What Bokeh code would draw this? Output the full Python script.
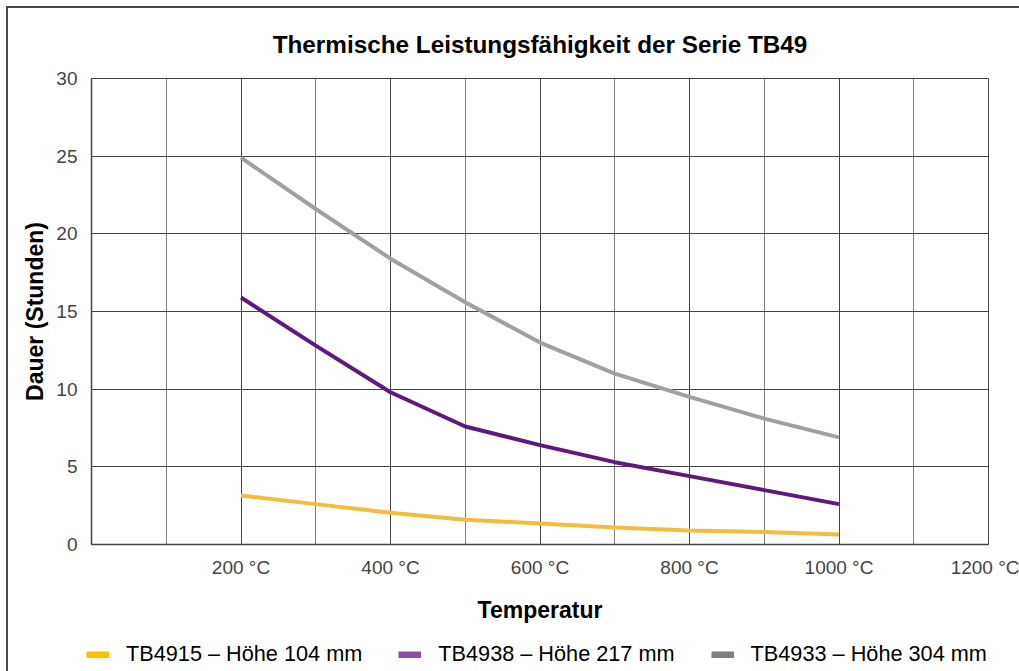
from bokeh.plotting import figure
from bokeh.models import (ColumnDataSource, Range1d, FixedTicker, Legend, LegendItem)
from bokeh.layouts import column
from bokeh.embed import file_html
from bokeh.resources import INLINE

# ---- data ----
temperature = [200, 300, 400, 500, 600, 700, 800, 900, 1000]
tb4915 = [3.15, 2.6, 2.05, 1.6, 1.35, 1.1, 0.9, 0.8, 0.65]
tb4938 = [15.9, 12.8, 9.8, 7.6, 6.4, 5.3, 4.4, 3.5, 2.6]
tb4933 = [24.9, 21.6, 18.4, 15.6, 13.0, 11.0, 9.5, 8.1, 6.9]

series_names = ["TB4915 – Höhe 104 mm", "TB4938 – Höhe 217 mm", "TB4933 – Höhe 304 mm"]
x_ticks = [200, 400, 600, 800, 1000, 1200]
x_tick_labels = ["200 °C", "400 °C", "600 °C", "800 °C", "1000 °C", "1200 °C"]
x_minor = [0, 100, 300, 500, 700, 900, 1100]
y_ticks = [0, 5, 10, 15, 20, 25, 30]
y_tick_labels = ["0", "5", "10", "15", "20", "25", "30"]

title = "Thermische Leistungsfähigkeit der Serie TB49"
x_label = "Temperatur"
y_label = "Dauer (Stunden)"

line_colors = ["#f4bc3c", "#5c1a7d", "#a0a0a0"]
legend_colors = ["#ffc000", "#8b4f9f", "#808080"]

FONT = "Liberation Sans"

p = figure(width=1019, height=630, output_backend="svg", toolbar_location=None,
           x_range=Range1d(0, 1200), y_range=Range1d(0, 30),
           min_border_left=91, min_border_right=31, min_border_top=78, min_border_bottom=86)
p.border_fill_alpha = 0
p.background_fill_color = "#ffffff"

p.title.text = title
p.title.align = "center"
p.title.offset = 3
p.title.text_font = FONT
p.title.text_font_size = "24.3px"
p.title.text_font_style = "bold"
p.title.text_color = "#000000"
p.title.standoff = 41

p.outline_line_color = "#444444"
p.outline_line_width = 1

# axes
xa = p.xaxis[0]
xa.ticker = FixedTicker(ticks=x_ticks, minor_ticks=x_minor)
xa.major_label_overrides = {t: l for t, l in zip(x_ticks, x_tick_labels)}
ya = p.yaxis[0]
ya.ticker = FixedTicker(ticks=y_ticks)
ya.major_label_overrides = {t: l for t, l in zip(y_ticks, y_tick_labels)}
for ax in (xa, ya):
    ax.major_tick_in = 0
    ax.major_tick_out = 0
    ax.minor_tick_in = 0
    ax.minor_tick_out = 0
    ax.axis_line_color = "#444444"
    ax.axis_line_width = 1.5
    ax.major_label_text_font = FONT
    ax.major_label_text_font_size = "19px"
    ax.major_label_text_color = "#444444"
    ax.axis_label_text_font = FONT
    ax.axis_label_text_font_size = "23px"
    ax.axis_label_text_font_style = "bold"
    ax.axis_label_text_color = "#000000"
xa.axis_label = x_label
ya.axis_label = y_label
xa.major_label_standoff = 12
xa.axis_label_standoff = 16
ya.major_label_standoff = 14
ya.axis_label_standoff = 5

p.xgrid.grid_line_color = "#444444"
p.xgrid.minor_grid_line_color = "#808080"
p.ygrid.grid_line_color = "#444444"

# lines
src = ColumnDataSource(dict(x=temperature, a=tb4915, b=tb4938, c=tb4933))
for col, color in zip(["a", "b", "c"], line_colors):
    p.line("x", col, source=src, line_color=color, line_width=4)

# ---- legend strip below the chart ----
lf = figure(width=1019, height=41, output_backend="svg", toolbar_location=None,
            x_range=Range1d(0, 1200), y_range=Range1d(100, 101),
            x_axis_location=None, y_axis_location=None,
            min_border_left=0, min_border_right=0, min_border_top=0, min_border_bottom=0)
lf.frame_align = False
lf.outline_line_color = None
lf.border_fill_alpha = 0
lf.background_fill_alpha = 0
lf.xgrid.visible = False
lf.ygrid.visible = False

items = []
for col, name, color in zip(["a", "b", "c"], series_names, legend_colors):
    r = lf.line("x", col, source=src, line_color=color, line_width=7, visible=False)
    items.append(LegendItem(label=name, renderers=[r]))

legend = Legend(items=items, location=(86, 4), orientation="horizontal",
                glyph_width=23, glyph_height=7, label_standoff=17, spacing=36,
                padding=0, margin=0, border_line_color=None, background_fill_alpha=0,
                label_text_font=FONT, label_text_font_size="21.7px", label_text_color="#000000")
lf.add_layout(legend, "center")

layout = column(p, lf, spacing=0)
layout.styles = {
    "background": "linear-gradient(#484848, #484848) 6px 6px / 2px 100% no-repeat, "
                  "linear-gradient(#484848, #484848) 6px 6px / 100% 2px no-repeat, #ffffff"
}
open("out.html", "w").write(file_html(layout, INLINE))
